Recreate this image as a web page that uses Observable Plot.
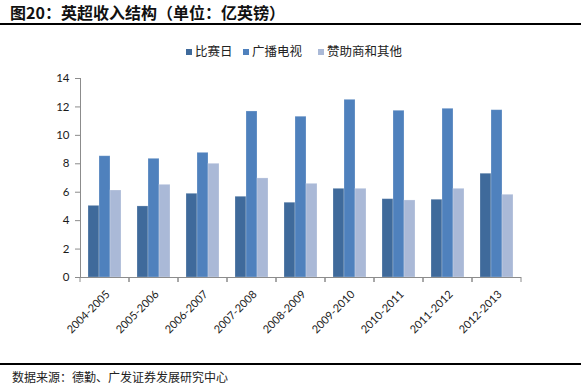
<!DOCTYPE html>
<html><head><meta charset="utf-8">
<script src="https://cdn.jsdelivr.net/npm/d3@7"></script>
<script src="https://cdn.jsdelivr.net/npm/@observablehq/plot@0.6"></script>
<style>
body{margin:0;background:#fff;}
#wrap{position:relative;width:581px;height:390px;overflow:hidden;font-family:"Noto Sans CJK SC",sans-serif;}
#chart{position:absolute;left:0;top:0;}
#title{position:absolute;left:10px;top:0px;font-size:16px;line-height:24px;font-weight:bold;color:#111;white-space:nowrap;}
.hline{position:absolute;left:0;width:581px;height:2px;background:#000;}
#legend{position:absolute;top:42px;left:0;width:581px;height:18px;font-size:12.5px;line-height:18px;color:#222;}
.li{position:absolute;top:0;white-space:nowrap;}
.sw{display:inline-block;width:6px;height:6px;margin-right:3px;vertical-align:1px;}
#source{position:absolute;left:12px;top:368px;font-size:12px;line-height:18px;color:#222;white-space:nowrap;}
</style></head>
<body><div id="wrap">
<div id="chart"></div>
<div id="title"></div>
<div class="hline" style="top:23px"></div>
<div id="legend"></div>
<div class="hline" style="top:363px"></div>
<div id="source"></div>
</div>
<script>
const titleText = "图20：英超收入结构（单位：亿英镑）";
const sourceText = "数据来源：德勤、广发证券发展研究中心";
const seasons = ["2004-2005","2005-2006","2006-2007","2007-2008","2008-2009","2009-2010","2010-2011","2011-2012","2012-2013"];
const seriesNames = ["比赛日","广播电视","赞助商和其他"];
const matchday   = [5.04, 5.00, 5.89, 5.68, 5.26, 6.24, 5.51, 5.47, 7.30];
const broadcast  = [8.53, 8.35, 8.77, 11.68, 11.31, 12.50, 11.73, 11.87, 11.77];
const commercial = [6.12, 6.52, 8.00, 6.97, 6.59, 6.24, 5.42, 6.24, 5.82];
const yTicks = [0, 2, 4, 6, 8, 10, 12, 14];
const colors = ["#3f6a9b", "#4f81bd", "#aab9d7"];
const axisColor = "#8c8c8c";
const labelColor = "#1a1a1a";

const seriesValues = [matchday, broadcast, commercial];
const data = [];
seasons.forEach((s, i) => seriesNames.forEach((n, j) => data.push({season: s, series: n, value: seriesValues[j][i]})));

document.getElementById("title").textContent = titleText;
document.getElementById("source").textContent = sourceText;
const legendX = [186, 243, 318];
const legend = document.getElementById("legend");
seriesNames.forEach((n, j) => {
  const el = document.createElement("span");
  el.className = "li";
  el.style.left = legendX[j] + "px";
  el.innerHTML = `<span class="sw" style="background:${colors[j]}"></span>${n}`;
  legend.appendChild(el);
});

function boundaryTicks(index, scales, values, dimensions) {
  const [x0, x1] = scales.x.range();
  const y0 = scales.y(0);
  const g = d3.create("svg:g").attr("stroke", axisColor).attr("stroke-width", 1);
  for (const x of [x0, x1]) {
    g.append("line").attr("x1", x).attr("x2", x).attr("y1", y0).attr("y2", y0 + 5);
  }
  return g.node();
}

const chart = Plot.plot({
  width: 581,
  height: 390,
  marginTop: 78,
  marginBottom: 113,
  marginLeft: 79,
  marginRight: 59,
  style: {fontFamily: "Lato, 'Noto Sans', sans-serif", fontSize: "12px", background: "transparent"},
  fx: {domain: seasons, padding: 0, label: null},
  x: {domain: seriesNames, paddingInner: 0, paddingOuter: 0.71, axis: null},
  y: {domain: [0, 14], label: null},
  color: {domain: seriesNames, range: colors},
  marks: [
    Plot.barY(data, {fx: "season", x: "series", y: "value", fill: "series", stroke: "#ffffff", strokeOpacity: 0.3, strokeWidth: 0.8}),
    Plot.ruleY([0], {stroke: axisColor, strokeWidth: 1.2}),
    Plot.frame({anchor: "left", facetAnchor: "left", stroke: axisColor}),
    boundaryTicks,
    Plot.axisY({ticks: yTicks, tickSize: 5, tickPadding: 6, stroke: axisColor, fill: labelColor, label: null, fontSize: 11.5}),
    Plot.axisFx({anchor: "bottom", tickRotate: -45, tickSize: 0, tickPadding: 15, dx: 3, fill: labelColor, label: null, fontSize: 11})
  ]
});
document.getElementById("chart").appendChild(chart);
</script>
</body></html>
